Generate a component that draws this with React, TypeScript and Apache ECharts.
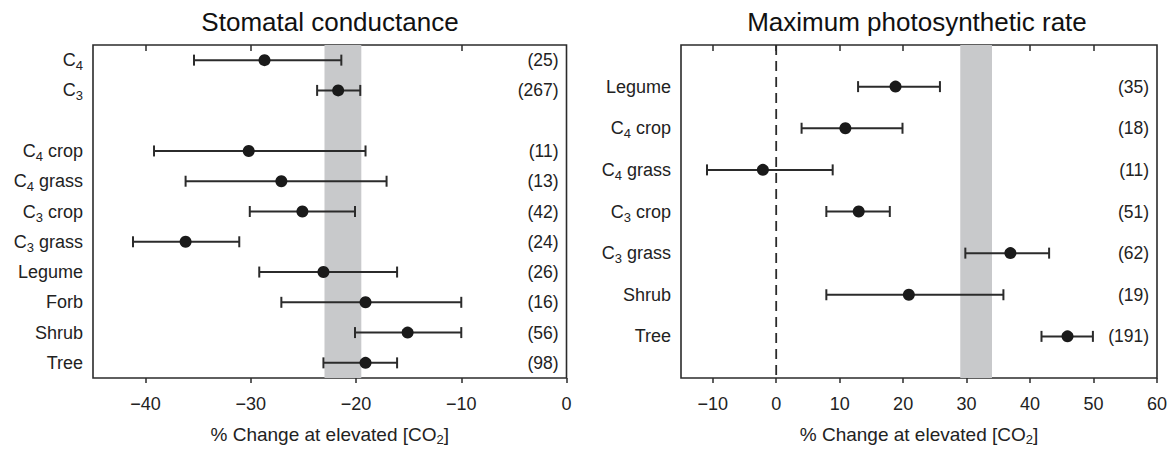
import React, { useEffect, useRef } from "react";
import * as echarts from "echarts";

const FONT = "'Liberation Sans', Arial, Helvetica, sans-serif";

// Left panel: Stomatal conductance
const leftCategories = ["C4", "C3", "", "C4 crop", "C4 grass", "C3 crop", "C3 grass", "Legume", "Forb", "Shrub", "Tree"];
const leftMean = [-28.7, -21.7, null, -30.2, -27.1, -25.1, -36.2, -23.1, -19.1, -15.1, -19.1];
const leftLow = [-35.4, -23.7, null, -39.2, -36.2, -30.1, -41.2, -29.2, -27.1, -20.1, -23.1];
const leftHigh = [-21.4, -19.6, null, -19.1, -17.1, -20.1, -31.1, -16.1, -10.0, -10.0, -16.1];
const leftCounts = ["(25)", "(267)", "", "(11)", "(13)", "(42)", "(24)", "(26)", "(16)", "(56)", "(98)"];
const leftBand = [-23.0, -19.5];
const leftTicks = [-40, -30, -20, -10, 0];

// Right panel: Maximum photosynthetic rate
const rightCategories = ["", "Legume", "C4 crop", "C4 grass", "C3 crop", "C3 grass", "Shrub", "Tree", ""];
const rightMean = [null, 18.8, 10.9, -2.1, 13.0, 36.9, 20.9, 45.9, null];
const rightLow = [null, 12.9, 4.0, -10.9, 7.9, 29.8, 7.9, 41.8, null];
const rightHigh = [null, 25.8, 19.9, 8.9, 17.9, 43.0, 35.8, 49.9, null];
const rightCounts = ["", "(35)", "(18)", "(11)", "(51)", "(62)", "(19)", "(191)", ""];
const rightBand = [29, 34];
const rightTicks = [-10, 0, 10, 20, 30, 40, 50, 60];

const TEXT = "#222";
const LINE = "#2b2b2b";

const richStyles = {
  n: { fontSize: 18, color: TEXT, lineHeight: 24, fontFamily: FONT },
  s: { fontSize: 13, color: TEXT, verticalAlign: "bottom", fontFamily: FONT },
};
const nameRich = {
  n: { fontSize: 19, color: TEXT, lineHeight: 24, fontFamily: FONT },
  s: { fontSize: 13, color: TEXT, verticalAlign: "bottom", fontFamily: FONT },
};

const subLabel = (v: string) =>
  v ? "{n|" + v.replace(/C([34])/, "C}{s|$1}{n|") + "}" : "";
const minus = (v: number) => String(v).replace("-", "\u2212");

function errorData(low: (number | null)[], high: (number | null)[]) {
  const out: number[][] = [];
  low.forEach((l, i) => {
    if (l != null && high[i] != null) out.push([l, high[i] as number, i]);
  });
  return out;
}
function meanData(mean: (number | null)[]) {
  const out: number[][] = [];
  mean.forEach((m, i) => {
    if (m != null) out.push([m, i]);
  });
  return out;
}

const errorRender = (params: any, api: any) => {
  const lo = api.coord([api.value(0), api.value(2)]);
  const hi = api.coord([api.value(1), api.value(2)]);
  const h = 5.5;
  const st = { stroke: LINE, lineWidth: 2 };
  return {
    type: "group",
    children: [
      { type: "line", shape: { x1: lo[0], y1: lo[1], x2: hi[0], y2: hi[1] }, style: st },
      { type: "line", shape: { x1: lo[0], y1: lo[1] - h, x2: lo[0], y2: lo[1] + h }, style: st },
      { type: "line", shape: { x1: hi[0], y1: hi[1] - h, x2: hi[0], y2: hi[1] + h }, style: st },
    ],
  };
};

const bandRender = (params: any, api: any) => {
  const cs = params.coordSys;
  const x1 = api.coord([api.value(0), 0])[0];
  const x2 = api.coord([api.value(1), 0])[0];
  return {
    type: "rect",
    shape: { x: x1, y: cs.y, width: x2 - x1, height: cs.height },
    style: { fill: "#c8c9cb" },
  };
};

const zeroRender = (params: any, api: any) => {
  const cs = params.coordSys;
  const x = api.coord([api.value(0), 0])[0];
  return {
    type: "line",
    shape: { x1: x, y1: cs.y, x2: x, y2: cs.y + cs.height },
    style: { stroke: LINE, lineWidth: 1.8, lineDash: [10, 6] },
  };
};

function bottomAxis(gridIndex: number, min: number, max: number, ticks: number[]) {
  return {
    type: "value",
    gridIndex,
    position: "bottom",
    min,
    max,
    axisLine: { show: false },
    splitLine: { show: false },
    axisTick: { show: true, length: 5, customValues: ticks, lineStyle: { color: LINE, width: 1.5 } },
    axisLabel: {
      customValues: ticks,
      formatter: minus,
      fontSize: 18,
      color: TEXT,
      fontFamily: FONT,
      margin: 17,
    },
    name: "{n|% Change at elevated [CO}{s|2}{n|]}",
    nameLocation: "middle",
    nameGap: 44,
    nameTextStyle: { rich: nameRich },
  };
}
function topAxis(gridIndex: number, min: number, max: number, ticks: number[]) {
  return {
    type: "value",
    gridIndex,
    position: "top",
    min,
    max,
    axisLine: { show: false },
    splitLine: { show: false },
    axisTick: { show: true, inside: true, length: 6, customValues: ticks, lineStyle: { color: LINE, width: 1.5 } },
    axisLabel: { show: false },
  };
}
function catAxis(gridIndex: number, data: string[], boundaryGap: boolean) {
  return {
    type: "category",
    gridIndex,
    data,
    inverse: true,
    boundaryGap,
    axisLine: { show: false },
    axisTick: { show: false },
    splitLine: { show: false },
    axisLabel: { formatter: subLabel, rich: richStyles, margin: 10, interval: 0 },
  };
}
function countAxis(gridIndex: number, data: string[], boundaryGap: boolean) {
  return {
    type: "category",
    gridIndex,
    data,
    inverse: true,
    boundaryGap,
    position: "right",
    axisLine: { show: false },
    axisTick: { show: false },
    splitLine: { show: false },
    axisLabel: { inside: true, margin: 8, fontSize: 17.5, color: TEXT, fontFamily: FONT, interval: 0 },
  };
}

export default function App() {
  const ref = useRef<HTMLDivElement>(null);
  useEffect(() => {
    const chart = echarts.init(ref.current!, null, { renderer: "svg" });
    const option: any = {
      animation: false,
      backgroundColor: "#fff",
      graphic: [
        {
          type: "text",
          x: 330,
          y: 22,
          style: {
            text: "Stomatal conductance",
            fontSize: 26,
            fontFamily: FONT,
            fill: "#111",
            textAlign: "center",
            textVerticalAlign: "middle",
            align: "center",
            verticalAlign: "middle",
          },
        },
        {
          type: "text",
          x: 917,
          y: 22,
          style: {
            text: "Maximum photosynthetic rate",
            fontSize: 26,
            fontFamily: FONT,
            fill: "#111",
            textAlign: "center",
            textVerticalAlign: "middle",
            align: "center",
            verticalAlign: "middle",
          },
        },
      ],
      grid: [
        { left: 93, top: 45, width: 473.5, height: 336, show: true, borderColor: LINE, borderWidth: 1.6, backgroundColor: "transparent" },
        { left: 681, top: 45, width: 476, height: 335, show: true, borderColor: LINE, borderWidth: 1.6, backgroundColor: "transparent" },
      ],
      xAxis: [
        bottomAxis(0, -45, 0, leftTicks),
        topAxis(0, -45, 0, leftTicks.slice(0, 4)),
        bottomAxis(1, -15, 60, rightTicks),
        topAxis(1, -15, 60, rightTicks.slice(0, 7)),
      ],
      yAxis: [
        catAxis(0, leftCategories, true),
        countAxis(0, leftCounts, true),
        catAxis(1, rightCategories, false),
        countAxis(1, rightCounts, false),
      ],
      series: [
        {
          type: "custom",
          xAxisIndex: 0,
          yAxisIndex: 0,
          renderItem: bandRender,
          data: [[leftBand[0], leftBand[1]]],
          encode: { x: [0, 1] },
          z: 1,
          silent: true,
        },
        {
          type: "custom",
          xAxisIndex: 0,
          yAxisIndex: 0,
          renderItem: errorRender,
          data: errorData(leftLow, leftHigh),
          encode: { x: [0, 1], y: 2 },
          z: 3,
        },
        {
          type: "scatter",
          xAxisIndex: 0,
          yAxisIndex: 0,
          data: meanData(leftMean),
          symbolSize: 12,
          itemStyle: { color: "#1a1a1a", opacity: 1 },
          z: 4,
        },
        {
          type: "custom",
          xAxisIndex: 2,
          yAxisIndex: 2,
          renderItem: bandRender,
          data: [[rightBand[0], rightBand[1]]],
          encode: { x: [0, 1] },
          z: 1,
          silent: true,
        },
        {
          type: "custom",
          xAxisIndex: 2,
          yAxisIndex: 2,
          renderItem: zeroRender,
          data: [[0]],
          encode: { x: 0 },
          z: 2,
          silent: true,
        },
        {
          type: "custom",
          xAxisIndex: 2,
          yAxisIndex: 2,
          renderItem: errorRender,
          data: errorData(rightLow, rightHigh),
          encode: { x: [0, 1], y: 2 },
          z: 3,
        },
        {
          type: "scatter",
          xAxisIndex: 2,
          yAxisIndex: 2,
          data: meanData(rightMean),
          symbolSize: 12,
          itemStyle: { color: "#1a1a1a", opacity: 1 },
          z: 4,
        },
      ],
    };
    chart.setOption(option);
    return () => chart.dispose();
  }, []);
  return (
    <div
      ref={ref}
      style={{ position: "absolute", left: 0, top: 0, width: 1174, height: 451, background: "#fff" }}
    />
  );
}
